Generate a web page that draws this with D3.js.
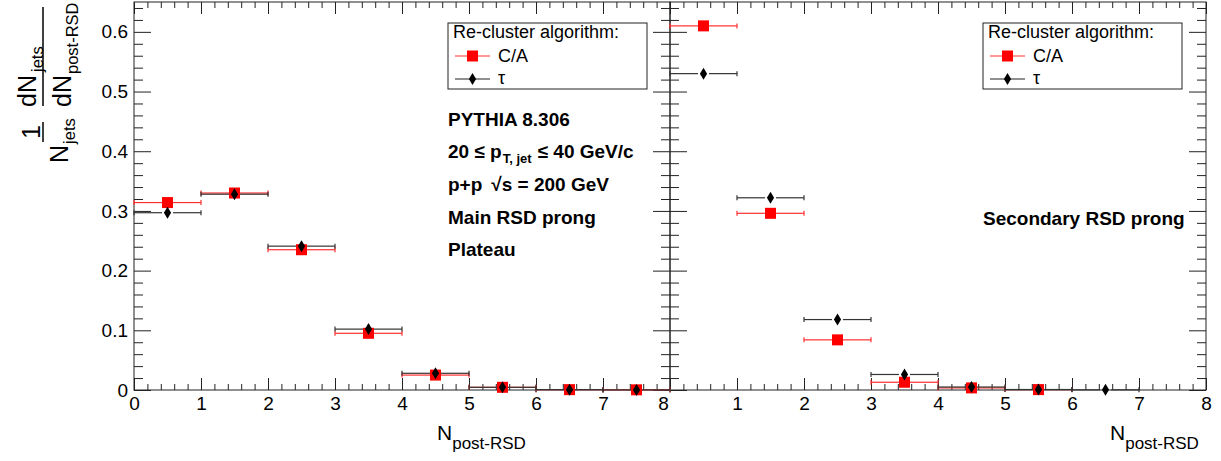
<!DOCTYPE html>
<html>
<head>
<meta charset="utf-8">
<script src="https://cdn.jsdelivr.net/npm/d3@7"></script>
<style>
  html, body { margin: 0; padding: 0; background: #fff; }
  svg { display: block; font-family: "Liberation Sans", Arial, Helvetica, sans-serif; }
</style>
</head>
<body>
<svg id="chart" width="1221" height="461"></svg>
<script>
// Bin centres of N_post-RSD (bins of width 1 from 0 to 8)
const binCenters = [0.5, 1.5, 2.5, 3.5, 4.5, 5.5, 6.5, 7.5];
const binHalfWidth = 0.5;

// Main RSD prong (left pad)
const mainCA  = [0.314, 0.330, 0.235, 0.095, 0.025, 0.0045, 0.0006, 0.0003];
const mainTau = [0.297, 0.328, 0.241, 0.102, 0.028, 0.0045, 0.0006, 0.0002];

// Secondary RSD prong (right pad); null = empty bin, not drawn
const secCA  = [0.610, 0.296, 0.084, 0.013, 0.0035, 0.0007, null, null];
const secTau = [0.530, 0.322, 0.118, 0.026, 0.005, 0.0008, 0.0003, null];

const xTickLabels = [0, 1, 2, 3, 4, 5, 6, 7, 8];
const yTickLabels = [0, 0.1, 0.2, 0.3, 0.4, 0.5, 0.6];

const legendTitle = "Re-cluster algorithm:";
const legendCA = "C/A";
const legendTau = "\u03c4";

const svg = d3.select("#chart");

const y = d3.scaleLinear().domain([0, 0.65]).range([390, 2]);
const xL = d3.scaleLinear().domain([0, 8]).range([134, 670]);
const xR = d3.scaleLinear().domain([0, 8]).range([670, 1206]);

const majorX = d3.range(0, 9, 1);
const minorX = d3.range(0, 8.001, 0.2).filter(v => Math.abs(v - Math.round(v)) > 1e-6);
const majorY = d3.range(0, 0.65, 0.1);
const minorY = d3.range(0, 0.651, 0.02).filter(v => Math.abs(v * 10 - Math.round(v * 10)) > 1e-6);

function tickAxis(g, axis) {
  g.call(axis);
  g.select(".domain").remove();
  g.selectAll(".tick line").attr("stroke", "#222").attr("stroke-width", 1);
  g.selectAll(".tick text").remove();
}

function drawFrame(x) {
  const [x0, x1] = x.range();
  const [y0, y1] = y.range();
  // bottom ticks
  tickAxis(svg.append("g").attr("transform", `translate(0,${y0})`),
    d3.axisBottom(x).tickValues(majorX).tickSize(-12).tickSizeOuter(0));
  tickAxis(svg.append("g").attr("transform", `translate(0,${y0})`),
    d3.axisBottom(x).tickValues(minorX).tickSize(-6).tickSizeOuter(0));
  // top ticks
  tickAxis(svg.append("g").attr("transform", `translate(0,${y1})`),
    d3.axisTop(x).tickValues(majorX).tickSize(-12).tickSizeOuter(0));
  tickAxis(svg.append("g").attr("transform", `translate(0,${y1})`),
    d3.axisTop(x).tickValues(minorX).tickSize(-6).tickSizeOuter(0));
  // left ticks
  tickAxis(svg.append("g").attr("transform", `translate(${x0},0)`),
    d3.axisLeft(y).tickValues(majorY).tickSize(-17).tickSizeOuter(0));
  tickAxis(svg.append("g").attr("transform", `translate(${x0},0)`),
    d3.axisLeft(y).tickValues(minorY).tickSize(-9).tickSizeOuter(0));
  // right ticks
  tickAxis(svg.append("g").attr("transform", `translate(${x1},0)`),
    d3.axisRight(y).tickValues(majorY).tickSize(-17).tickSizeOuter(0));
  tickAxis(svg.append("g").attr("transform", `translate(${x1},0)`),
    d3.axisRight(y).tickValues(minorY).tickSize(-9).tickSizeOuter(0));
  // frame box
  svg.append("rect")
    .attr("x", x0).attr("y", y1)
    .attr("width", x1 - x0).attr("height", y0 - y1)
    .attr("fill", "none").attr("stroke", "#222").attr("stroke-width", 1);
}

function xLabels(x, values, shiftLast) {
  const g = svg.append("g").attr("transform", `translate(0,${y.range()[0]})`)
    .call(d3.axisBottom(x).tickValues(values).tickSize(0).tickPadding(7).tickFormat(d3.format("d")));
  g.select(".domain").remove();
  g.selectAll(".tick text")
    .attr("font-size", 19).attr("fill", "#000")
    .attr("font-family", "Liberation Sans, Arial, sans-serif");
  if (shiftLast) {
    g.selectAll(".tick text").filter(d => d === 8).attr("dx", -7);
  }
}

const diamond = "M0,-6L3.6,0L0,6L-3.6,0Z";
const gap = 5.5;

function drawSeries(x, values, color, barColor, marker) {
  const pts = binCenters.map((c, i) => ({ c, v: values[i] })).filter(d => d.v !== null);
  const g = svg.append("g");
  pts.forEach(d => {
    const xc = x(d.c), xa = x(d.c - binHalfWidth), xb = x(d.c + binHalfWidth), yy = y(d.v);
    g.append("line").attr("x1", xa).attr("x2", xc - gap).attr("y1", yy).attr("y2", yy)
      .attr("stroke", barColor).attr("stroke-width", 1.2);
    g.append("line").attr("x1", xc + gap).attr("x2", xb).attr("y1", yy).attr("y2", yy)
      .attr("stroke", barColor).attr("stroke-width", 1.2);
    [xa, xb].forEach(xe => {
      g.append("line").attr("x1", xe).attr("x2", xe).attr("y1", yy - 2.5).attr("y2", yy + 2.5)
        .attr("stroke", barColor).attr("stroke-width", 1.2);
    });
  });
  pts.forEach(d => {
    const xc = x(d.c), yy = y(d.v);
    if (marker === "square") {
      g.append("rect").attr("x", xc - 5.5).attr("y", yy - 5.5).attr("width", 11).attr("height", 11)
        .attr("fill", color);
    } else {
      g.append("path").attr("d", diamond).attr("transform", `translate(${xc},${yy})`).attr("fill", color);
    }
  });
}

function drawLegend(left) {
  const g = svg.append("g").attr("transform", `translate(${left},0)`);
  g.append("rect").attr("x", 0).attr("y", 23).attr("width", 199).attr("height", 66)
    .attr("fill", "#fff").attr("stroke", "#222").attr("stroke-width", 1);
  g.append("text").attr("x", 5).attr("y", 38).attr("font-size", 18).text(legendTitle);
  // C/A entry
  g.append("line").attr("x1", 7).attr("x2", 42).attr("y1", 56).attr("y2", 56)
    .attr("stroke", "#ff3030").attr("stroke-width", 1.2);
  g.append("rect").attr("x", 24.5 - 5.5).attr("y", 56 - 5.5).attr("width", 11).attr("height", 11).attr("fill", "#ff0000");
  g.append("text").attr("x", 50).attr("y", 62).attr("font-size", 18).text(legendCA);
  // tau entry
  g.append("line").attr("x1", 7).attr("x2", 42).attr("y1", 79).attr("y2", 79)
    .attr("stroke", "#222").attr("stroke-width", 1.2);
  g.append("path").attr("d", diamond).attr("transform", "translate(24.5,79)").attr("fill", "#000");
  g.append("text").attr("x", 50).attr("y", 84).attr("font-size", 18).text(legendTau);
}

// Frames and ticks
drawFrame(xL);
drawFrame(xR);

// Tick labels
xLabels(xL, xTickLabels, true);
xLabels(xR, xTickLabels.filter(v => v > 0), false);

const yl = svg.append("g").attr("transform", `translate(${xL.range()[0]},0)`)
  .call(d3.axisLeft(y).tickValues(yTickLabels).tickSize(0).tickPadding(6)
    .tickFormat(d => d === 0 ? "0" : d3.format(".1f")(d)));
yl.select(".domain").remove();
yl.selectAll(".tick text").attr("font-size", 19).attr("fill", "#000")
  .attr("font-family", "Liberation Sans, Arial, sans-serif");

// Data
drawSeries(xL, mainCA, "#ff0000", "#ff3030", "square");
drawSeries(xL, mainTau, "#000", "#333", "diamond");
drawSeries(xR, secCA, "#ff0000", "#ff3030", "square");
drawSeries(xR, secTau, "#000", "#333", "diamond");

// Legends
drawLegend(448);
drawLegend(983);

// Annotations (left pad)
const ann = svg.append("g").attr("font-weight", "bold").attr("font-size", 19);
ann.append("text").attr("x", 448).attr("y", 126).text("PYTHIA 8.306");
const t2 = ann.append("text").attr("x", 448).attr("y", 158);
t2.append("tspan").text("20 \u2264 p");
t2.append("tspan").attr("font-size", 13).attr("dy", 5).attr("dx", 1).text("T, jet");
t2.append("tspan").attr("dy", -5).attr("dx", 6).text("\u2264 40 GeV/c");
const t3 = ann.append("text").attr("x", 448).attr("y", 191);
t3.append("tspan").text("p+p");
t3.append("tspan").attr("dx", 9).text("\u221as = 200 GeV");
ann.append("text").attr("x", 448).attr("y", 224).text("Main RSD prong");
ann.append("text").attr("x", 448).attr("y", 256).text("Plateau");

// Annotation (right pad)
ann.append("text").attr("x", 983).attr("y", 225).text("Secondary RSD prong");

// X-axis titles
function xTitle(xStart) {
  const t = svg.append("text").attr("x", xStart).attr("y", 440).attr("font-size", 21);
  t.append("tspan").text("N");
  t.append("tspan").attr("font-size", 17).attr("dy", 9).text("post-RSD");
}
xTitle(437);
xTitle(1110);

// Y-axis title: (1/N_jets) (dN_jets / dN_post-RSD), rotated to read upwards
const yt = svg.append("g").attr("transform", "rotate(-90)");
const bigFont = 25, subFont = 16.5;
// fraction dN_jets / dN_post-RSD
const num = yt.append("text").attr("x", -107).attr("y", 36).attr("font-size", bigFont);
num.append("tspan").text("dN");
num.append("tspan").attr("font-size", subFont).attr("dy", 7).attr("dx", 3).text("jets");
yt.append("line").attr("x1", -106).attr("x2", -7).attr("y1", 43).attr("y2", 43)
  .attr("stroke", "#000").attr("stroke-width", 1.5);
const den = yt.append("text").attr("x", -107).attr("y", 71).attr("font-size", bigFont);
den.append("tspan").text("dN");
den.append("tspan").attr("font-size", subFont).attr("dy", 7).attr("dx", 1).text("post-RSD");
// fraction 1 / N_jets
yt.append("text").attr("x", -132).attr("y", 40).attr("font-size", bigFont).attr("text-anchor", "middle").text("1");
yt.append("line").attr("x1", -142).attr("x2", -122).attr("y1", 43).attr("y2", 43)
  .attr("stroke", "#000").attr("stroke-width", 1.5);
const nj = yt.append("text").attr("x", -163).attr("y", 68).attr("font-size", bigFont);
nj.append("tspan").text("N");
nj.append("tspan").attr("font-size", subFont).attr("dy", 7).attr("dx", 1).text("jets");
</script>
</body>
</html>
